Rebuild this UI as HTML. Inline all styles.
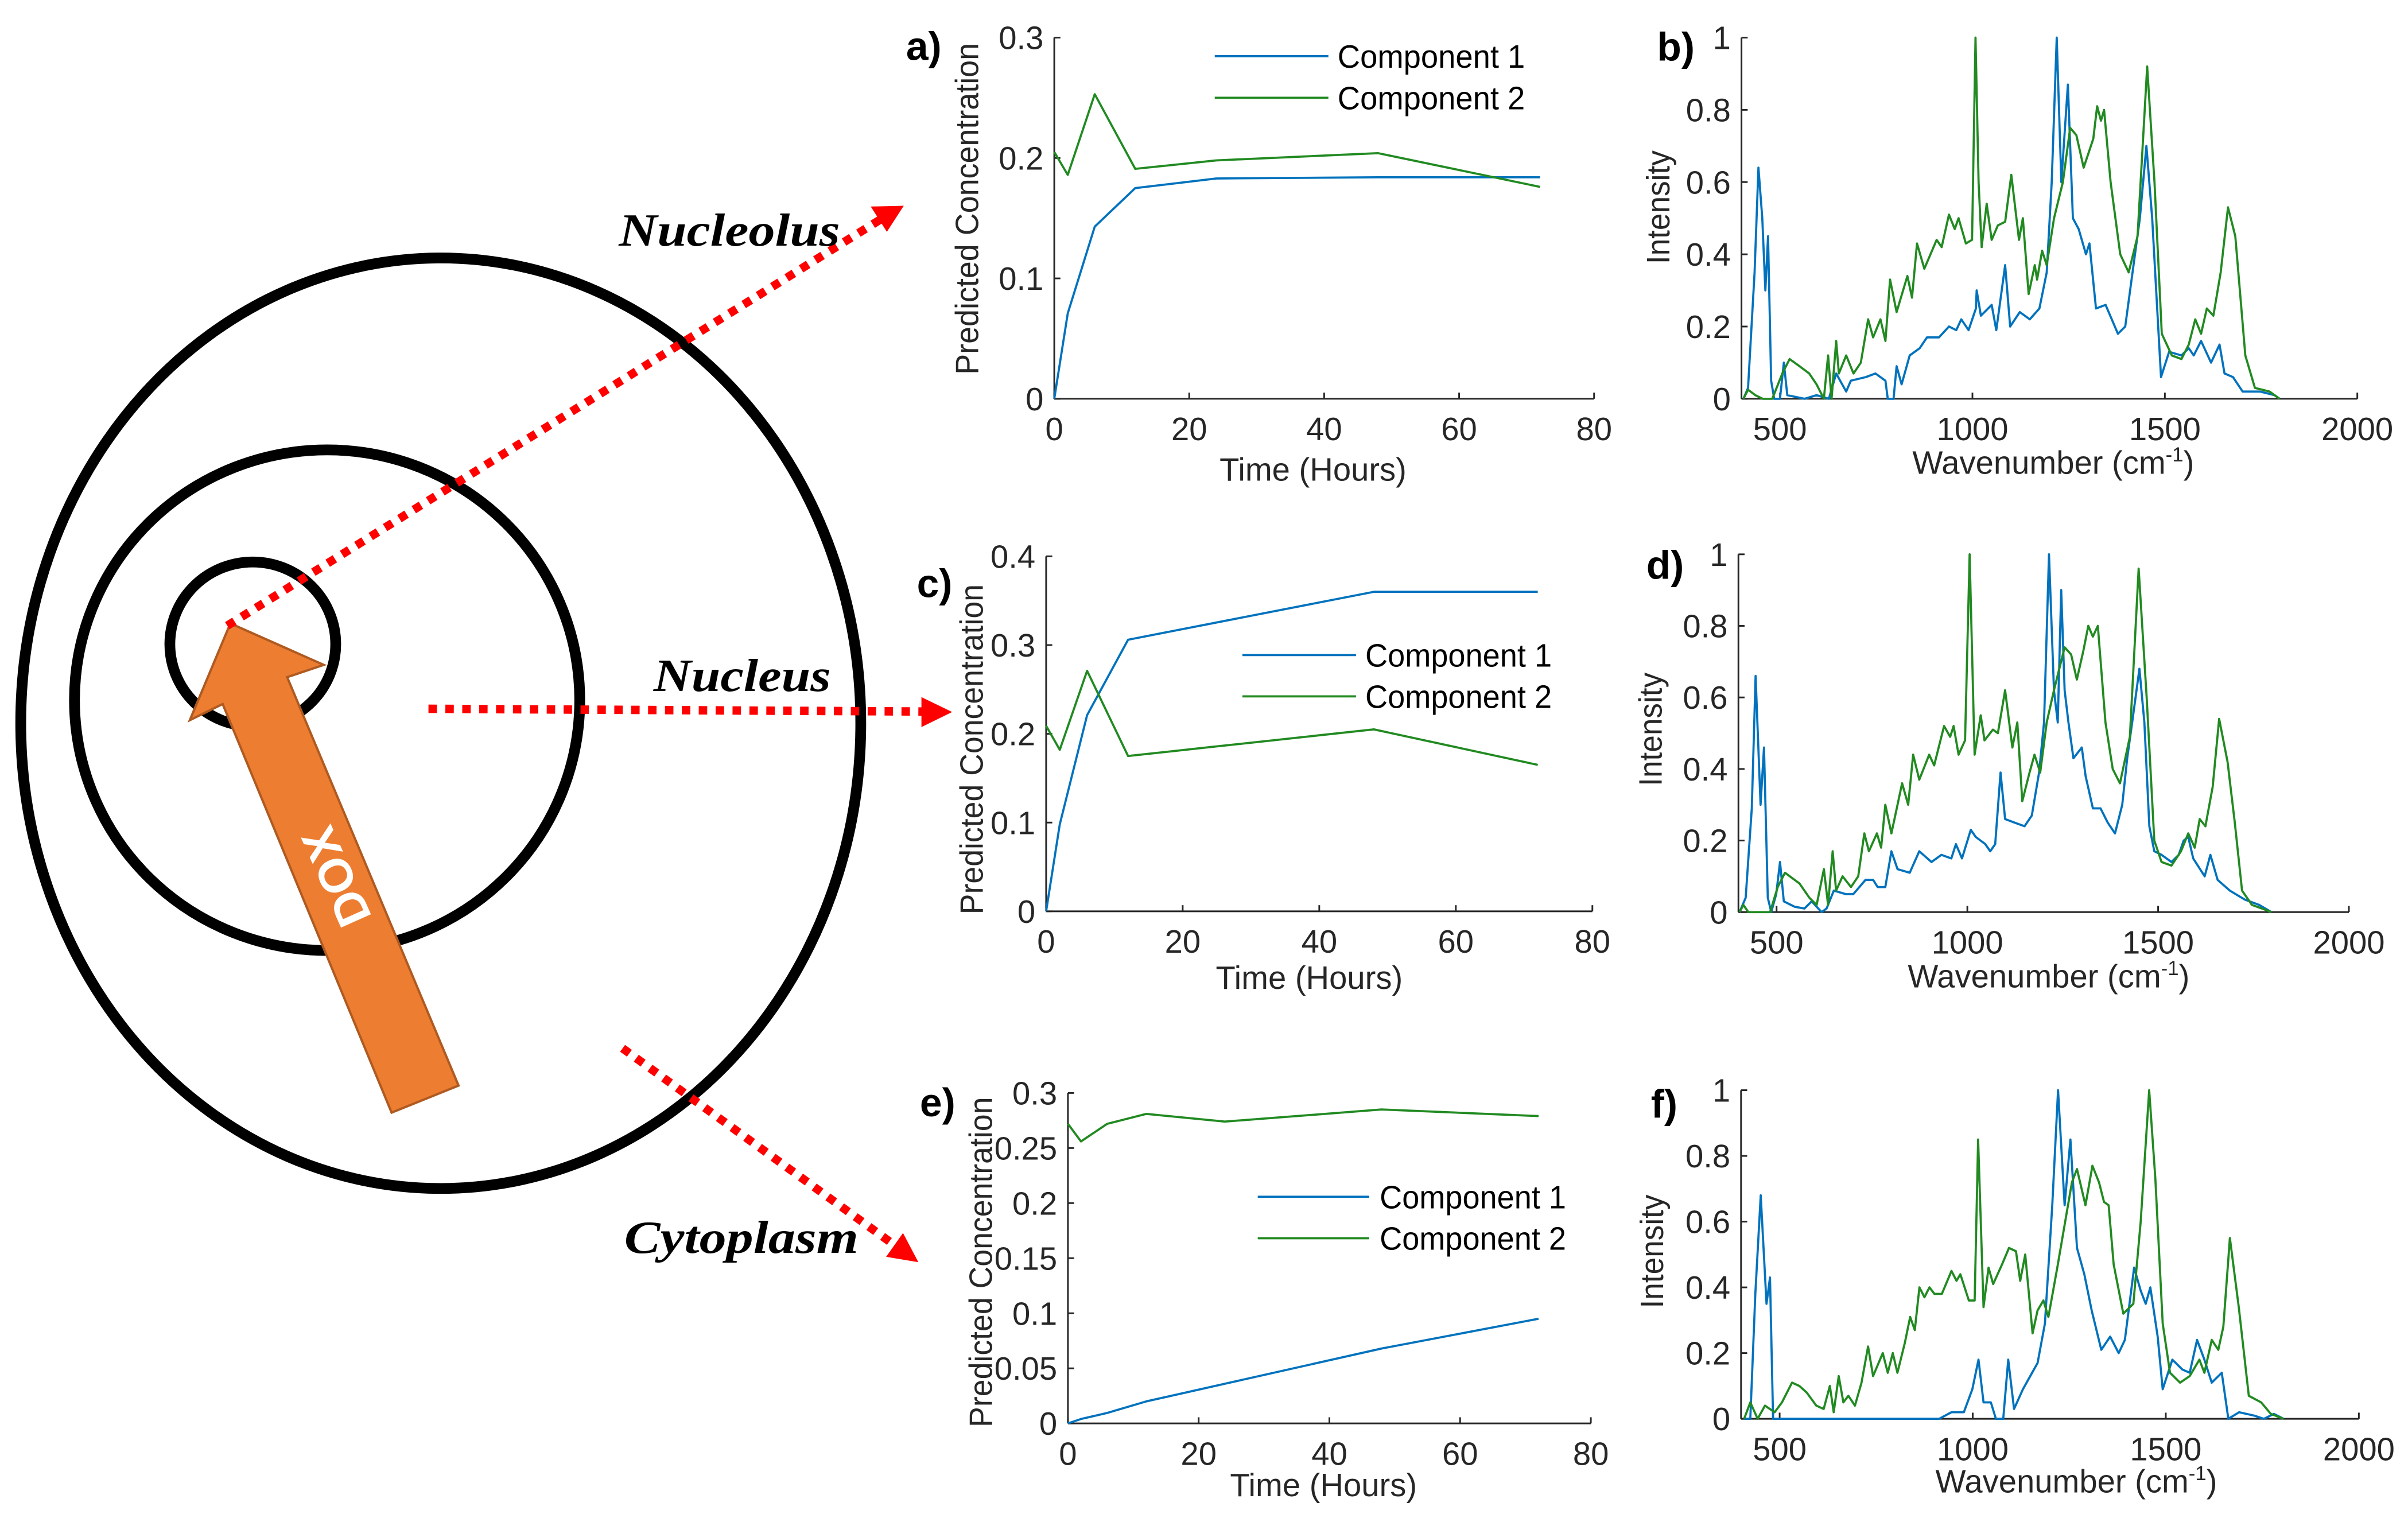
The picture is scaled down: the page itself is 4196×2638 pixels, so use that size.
<!DOCTYPE html>
<html><head><meta charset="utf-8"><style>
html,body{margin:0;padding:0;background:#fff;}
svg{display:block;}
text{font-family:"Liberation Sans",Arial,sans-serif;}
text.serif{font-family:"Liberation Serif","DejaVu Serif",serif;}
</style></head><body>
<svg id="fig" xmlns="http://www.w3.org/2000/svg" width="4196" height="2638" viewBox="0 0 1568 986" preserveAspectRatio="none">
<rect x="0" y="0" width="1568" height="986" fill="#fff"/>
<g id="diagram">
  <ellipse cx="287" cy="471" rx="273.5" ry="303" fill="none" stroke="#000" stroke-width="7"/>
  <ellipse cx="213" cy="456" rx="164.5" ry="163" fill="none" stroke="#000" stroke-width="7"/>
  <ellipse cx="164.6" cy="419.5" rx="54" ry="53.5" fill="none" stroke="#000" stroke-width="7"/>
  <polygon points="150,406 210.8,433 187,441 298.6,707 255,724.6 145,458.5 123.6,469" fill="#ED7D31" stroke="#AE5A21" stroke-width="1.5"/>
  <text x="0" y="0" transform="translate(219,571) rotate(-114)" text-anchor="middle" dominant-baseline="central" font-weight="bold" font-size="31" fill="#fff">DOX</text>
  <line x1="148" y1="407.5" x2="574" y2="142.5" stroke="#f00" stroke-width="5.5" stroke-dasharray="5.5,5.5"/>
  <polygon points="588.5,134 567,134.5 577.5,151" fill="#f00"/>
  <line x1="279" y1="461.6" x2="603" y2="463.4" stroke="#f00" stroke-width="5.5" stroke-dasharray="5.5,5.5"/>
  <polygon points="620,463.7 600,454 600,473.5" fill="#f00"/>
  <line x1="405.4" y1="682.7" x2="584" y2="812" stroke="#f00" stroke-width="5.5" stroke-dasharray="5.5,5.5"/>
  <polygon points="598,822 577,818.5 588,803" fill="#f00"/>
  <text class="serif" x="403" y="160" font-style="italic" font-weight="bold" font-size="30" textLength="144" lengthAdjust="spacingAndGlyphs">Nucleolus</text>
  <text class="serif" x="425.6" y="450" font-style="italic" font-weight="bold" font-size="30" textLength="115.4" lengthAdjust="spacingAndGlyphs">Nucleus</text>
  <text class="serif" x="406.5" y="816" font-style="italic" font-weight="bold" font-size="30" textLength="152.5" lengthAdjust="spacingAndGlyphs">Cytoplasm</text>
</g>
</svg>
<script>
// ---------- data ----------
const times = [0, 2, 6, 12, 24, 48, 72];
const concA1 = [0, 0.071, 0.143, 0.175, 0.183, 0.184, 0.184];
const concA2 = [0.205, 0.186, 0.253, 0.191, 0.198, 0.204, 0.176];
const concC1 = [0, 0.098, 0.221, 0.306, 0.324, 0.360, 0.360];
const concC2 = [0.209, 0.182, 0.271, 0.175, 0.185, 0.205, 0.165];
const concE1 = [0, 0.004, 0.0095, 0.02, 0.036, 0.068, 0.095];
const concE2 = [0.272, 0.256, 0.272, 0.281, 0.274, 0.285, 0.279];
const timeTicks = [0, 20, 40, 60, 80];
const timeTickLabels = ['0', '20', '40', '60', '80'];
const concTicksA = [0, 0.1, 0.2, 0.3];
const concTickLabelsA = ['0', '0.1', '0.2', '0.3'];
const concTicksC = [0, 0.1, 0.2, 0.3, 0.4];
const concTickLabelsC = ['0', '0.1', '0.2', '0.3', '0.4'];
const concTicksE = [0, 0.05, 0.1, 0.15, 0.2, 0.25, 0.3];
const concTickLabelsE = ['0', '0.05', '0.1', '0.15', '0.2', '0.25', '0.3'];
const wnTicks = [500, 1000, 1500, 2000];
const wnTickLabels = ['500', '1000', '1500', '2000'];
const intTicks = [0, 0.2, 0.4, 0.6, 0.8, 1];
const intTickLabels = ['0', '0.2', '0.4', '0.6', '0.8', '1'];

const wnB1 = [405,417,434,444,454,462,469,477,485,500,510,519,564,595,627,646,672,684,723,748,774,780,795,803,816,837,863,882,913,939,958,971,990,1009,1011,1022,1050,1062,1085,1098,1123,1149,1174,1193,1206,1219,1231,1248,1261,1276,1295,1304,1321,1346,1378,1397,1416,1435,1452,1467,1480,1490,1511,1543,1562,1575,1594,1620,1642,1655,1677,1702,1747,1785,1798];
const intB1 = [0,0.03,0.35,0.64,0.5,0.3,0.45,0.05,0,0,0.1,0.01,0,0.01,0,0.07,0.02,0.05,0.06,0.07,0.05,0,0,0.09,0.04,0.12,0.14,0.17,0.17,0.2,0.19,0.22,0.19,0.25,0.3,0.23,0.26,0.19,0.37,0.2,0.24,0.22,0.25,0.35,0.6,1.0,0.6,0.87,0.5,0.47,0.4,0.43,0.25,0.26,0.18,0.2,0.35,0.5,0.7,0.5,0.25,0.06,0.13,0.12,0.14,0.12,0.16,0.1,0.15,0.07,0.06,0.02,0.02,0.01,0];
const wnB2 = [405,417,436,455,480,506,525,551,576,595,614,625,634,646,653,672,691,710,729,742,761,774,786,803,831,843,856,875,907,920,939,954,964,983,999,1008,1016,1024,1037,1050,1066,1085,1101,1121,1131,1146,1162,1168,1181,1193,1212,1235,1254,1270,1289,1314,1324,1334,1342,1359,1384,1406,1429,1454,1473,1492,1518,1543,1562,1579,1594,1609,1626,1645,1664,1683,1709,1734,1772,1798];
const intB2 = [0,0.025,0.01,0,0,0.07,0.11,0.09,0.07,0.04,0,0.12,0,0.16,0.07,0.12,0.07,0.1,0.22,0.17,0.22,0.16,0.33,0.24,0.34,0.28,0.43,0.36,0.44,0.42,0.51,0.47,0.5,0.43,0.44,1.0,0.6,0.42,0.54,0.44,0.48,0.49,0.62,0.44,0.5,0.29,0.37,0.33,0.41,0.37,0.5,0.6,0.75,0.73,0.64,0.72,0.81,0.77,0.8,0.6,0.4,0.35,0.45,0.92,0.6,0.18,0.12,0.11,0.15,0.22,0.18,0.25,0.23,0.35,0.53,0.45,0.12,0.03,0.02,0];
const wnD1 = [403,419,435,445,458,467,477,486,499,509,519,547,573,592,618,631,650,682,701,733,753,765,785,801,817,849,874,906,932,958,970,986,1009,1022,1047,1060,1073,1087,1099,1124,1150,1169,1188,1201,1214,1227,1237,1246,1255,1265,1278,1300,1310,1329,1349,1368,1387,1406,1419,1432,1451,1464,1477,1490,1509,1535,1554,1567,1579,1592,1622,1637,1656,1688,1727,1765,1797];
const intD1 = [0,0.04,0.29,0.66,0.30,0.46,0.04,0,0.05,0.14,0.03,0.015,0.01,0.03,0,0.01,0.06,0.05,0.05,0.09,0.09,0.07,0.07,0.17,0.12,0.11,0.17,0.14,0.16,0.15,0.19,0.15,0.23,0.21,0.19,0.17,0.19,0.39,0.26,0.25,0.24,0.27,0.39,0.53,1.0,0.62,0.53,0.9,0.62,0.53,0.43,0.46,0.38,0.29,0.29,0.25,0.22,0.3,0.43,0.53,0.68,0.53,0.24,0.17,0.16,0.14,0.16,0.2,0.21,0.15,0.1,0.16,0.09,0.06,0.035,0.02,0];
const wnD2 = [403,413,426,483,503,522,560,586,605,624,635,647,656,673,695,714,730,742,763,774,785,801,829,845,858,874,900,913,939,955,964,977,994,1006,1019,1035,1045,1067,1080,1099,1118,1131,1144,1163,1176,1191,1208,1227,1255,1272,1287,1304,1317,1329,1342,1362,1381,1400,1426,1449,1470,1490,1509,1535,1560,1579,1596,1609,1624,1643,1660,1682,1701,1720,1746,1772,1797];
const intD2 = [0,0.02,0,0,0.07,0.11,0.08,0.04,0.02,0.12,0.02,0.17,0.06,0.1,0.07,0.1,0.22,0.17,0.22,0.18,0.3,0.22,0.36,0.3,0.44,0.37,0.44,0.41,0.52,0.49,0.52,0.44,0.48,1.0,0.44,0.55,0.48,0.51,0.5,0.62,0.46,0.53,0.31,0.39,0.44,0.39,0.53,0.62,0.74,0.72,0.65,0.73,0.8,0.77,0.8,0.53,0.4,0.36,0.49,0.96,0.6,0.2,0.14,0.13,0.17,0.22,0.18,0.26,0.24,0.35,0.54,0.42,0.25,0.06,0.02,0.01,0];
const wnF1 = [408,424,437,451,466,475,483,532,913,945,977,999,1015,1028,1047,1060,1079,1092,1107,1130,1149,1168,1187,1206,1221,1238,1253,1270,1289,1308,1333,1356,1378,1394,1406,1418,1435,1448,1460,1479,1492,1517,1543,1562,1581,1600,1619,1645,1662,1690,1728,1754,1780,1805];
const intF1 = [0,0,0.38,0.68,0.35,0.43,0,0,0,0.02,0.02,0.09,0.18,0.05,0.05,0,0,0.18,0.03,0.09,0.13,0.17,0.29,0.65,1.0,0.65,0.85,0.52,0.44,0.33,0.21,0.25,0.2,0.24,0.35,0.46,0.39,0.35,0.4,0.25,0.09,0.18,0.15,0.14,0.24,0.18,0.11,0.14,0,0.02,0.01,0,0.015,0];
const wnF2 = [408,424,443,462,487,506,532,551,570,595,614,630,640,653,665,678,695,712,729,742,767,780,793,805,824,838,850,862,875,888,901,920,945,958,968,990,1005,1014,1028,1041,1053,1076,1094,1112,1123,1136,1155,1168,1183,1196,1219,1238,1257,1270,1292,1310,1327,1340,1352,1365,1390,1416,1435,1457,1473,1492,1511,1537,1562,1587,1600,1619,1636,1649,1666,1689,1715,1747,1772,1805];
const intF2 = [0,0.05,0,0.04,0.02,0.05,0.11,0.1,0.08,0.04,0.03,0.1,0.02,0.13,0.05,0.07,0.04,0.11,0.22,0.13,0.2,0.14,0.2,0.14,0.23,0.31,0.27,0.4,0.37,0.4,0.38,0.38,0.45,0.42,0.44,0.36,0.36,0.85,0.34,0.46,0.41,0.47,0.52,0.51,0.42,0.5,0.26,0.33,0.36,0.31,0.46,0.59,0.72,0.76,0.65,0.77,0.72,0.66,0.65,0.47,0.32,0.35,0.6,1.0,0.73,0.29,0.14,0.11,0.13,0.18,0.14,0.24,0.21,0.28,0.55,0.34,0.07,0.05,0.015,0];

// ---------- drawing ----------
const NS = 'http://www.w3.org/2000/svg';
const BLUE = '#0072BD', GREEN = '#218A21', AX = '#262626';
const svg = document.getElementById('fig');

function mk(tag, attrs, parent) {
  const e = document.createElementNS(NS, tag);
  for (const k in attrs) e.setAttribute(k, attrs[k]);
  parent.appendChild(e);
  return e;
}

function drawPanel(p) {
  const g = mk('g', {}, svg);
  
  
  const sx = v => p.x0 + (v - p.xmin) / (p.xmax - p.xmin) * (p.x1 - p.x0);
  const sy = v => p.y0 - (v - p.ymin) / (p.ymax - p.ymin) * (p.y0 - p.y1);
  const xa = mk('line', {x1: p.x0, y1: p.y0, x2: p.x1, y2: p.y0, stroke: AX, 'stroke-width': 1.1}, g);
  
  
  const ya = mk('line', {x1: p.x0, y1: p.y0, x2: p.x0, y2: p.y1, stroke: AX, 'stroke-width': 1.1}, g);
  
  
  p.xticks.forEach((t, i) => {
    const X = sx(t);
    const tk = mk('line', {x1: X, y1: p.y0, x2: X, y2: p.y0 - 4, stroke: AX, 'stroke-width': 1.1}, g);
    
    
    const tl = mk('text', {x: X, y: p.y0 + 27, 'text-anchor': 'middle', 'font-size': 21, fill: AX}, g);
    tl.textContent = p.xlabels[i];
    
    
  });
  p.yticks.forEach((t, i) => {
    const Y = sy(t);
    const tk = mk('line', {x1: p.x0, y1: Y, x2: p.x0 + 4, y2: Y, stroke: AX, 'stroke-width': 1.1}, g);
    
    
    const tl = mk('text', {x: p.x0 - 7, y: Y + 7.5, 'text-anchor': 'end', 'font-size': 21, fill: AX}, g);
    tl.textContent = p.ylabels[i];
    
    
  });
  p.series.forEach(s => {
    const d = s.x.map((v, i) => (i ? 'L' : 'M') + sx(v).toFixed(2) + ',' + sy(s.y[i]).toFixed(2)).join('');
    const path = mk('path', {d: d, fill: 'none', stroke: s.color, 'stroke-width': 1.4, 'stroke-linejoin': 'round'}, g);
    
    
  });
  const xl = mk('text', {x: p.xlab[0], y: p.xlab[1], 'text-anchor': 'middle', 'font-size': 21, fill: AX}, g);
  if (p.xlabSup) {
    xl.appendChild(document.createTextNode('Wavenumber (cm'));
    const ts = mk('tspan', {'font-size': 13, dy: -8}, xl);
    ts.textContent = '-1';
    const ts2 = mk('tspan', {dy: 8}, xl);
    ts2.textContent = ')';
  } else {
    xl.textContent = p.xlabText;
  }
  
  
  const yl = mk('text', {x: 0, y: 0, transform: 'translate(' + p.ylab[0] + ',' + p.ylab[1] + ') rotate(-90)', 'text-anchor': 'middle', 'font-size': 21, fill: AX, textLength: p.ylab[2], lengthAdjust: 'spacingAndGlyphs'}, g);
  yl.textContent = p.ylabText;
  
  
  const pl = mk('text', {x: p.plab[0], y: p.plab[1], 'font-size': 26, 'font-weight': 'bold', fill: '#000'}, g);
  pl.textContent = p.plabText;
  
  
  if (p.legend) {
    const L = p.legend;
    [['Component 1', BLUE, L.y1], ['Component 2', GREEN, L.y2]].forEach(en => {
      const lg = mk('g', {}, g);
      
      
      const ln = mk('line', {x1: L.lx0, y1: en[2], x2: L.lx1, y2: en[2], stroke: en[1], 'stroke-width': 1.4}, lg);
      
      
      const lt = mk('text', {x: L.tx, y: en[2] + 7.5, 'font-size': 21, fill: '#000', textLength: L.tw, lengthAdjust: 'spacingAndGlyphs'}, lg);
      lt.textContent = en[0];
      
      
    });
  }
}

drawPanel({name: 'panel-a-nucleolus-concentration', x0: 686.5, x1: 1038, y0: 259.7, y1: 24.5, xmin: 0, xmax: 80, ymin: 0, ymax: 0.3,
  xticks: timeTicks, xlabels: timeTickLabels, yticks: concTicksA, ylabels: concTickLabelsA,
  series: [{x: times, y: concA1, color: BLUE, name: 'component-1-line'}, {x: times, y: concA2, color: GREEN, name: 'component-2-line'}],
  xlab: [855, 313], xlabText: 'Time (Hours)', ylab: [637, 136, 216], ylabText: 'Predicted Concentration',
  plab: [590, 39], plabText: 'a)', legend: {lx0: 791, lx1: 865, y1: 36.6, y2: 63.7, tx: 871, tw: 122}});

drawPanel({name: 'panel-c-nucleus-concentration', x0: 681.2, x1: 1036.9, y0: 593.5, y1: 362.3, xmin: 0, xmax: 80, ymin: 0, ymax: 0.4,
  xticks: timeTicks, xlabels: timeTickLabels, yticks: concTicksC, ylabels: concTickLabelsC,
  series: [{x: times, y: concC1, color: BLUE, name: 'component-1-line'}, {x: times, y: concC2, color: GREEN, name: 'component-2-line'}],
  xlab: [852.5, 644], xlabText: 'Time (Hours)', ylab: [640, 488, 215], ylabText: 'Predicted Concentration',
  plab: [597, 389], plabText: 'c)', legend: {lx0: 809, lx1: 883, y1: 426.6, y2: 453.5, tx: 889, tw: 121.5}});

drawPanel({name: 'panel-e-cytoplasm-concentration', x0: 695.4, x1: 1035.9, y0: 927, y1: 711.8, xmin: 0, xmax: 80, ymin: 0, ymax: 0.3,
  xticks: timeTicks, xlabels: timeTickLabels, yticks: concTicksE, ylabels: concTickLabelsE,
  series: [{x: times, y: concE1, color: BLUE, name: 'component-1-line'}, {x: times, y: concE2, color: GREEN, name: 'component-2-line'}],
  xlab: [861.8, 974.5], xlabText: 'Time (Hours)', ylab: [646, 822, 215], ylabText: 'Predicted Concentration',
  plab: [599, 727], plabText: 'e)', legend: {lx0: 819, lx1: 891.6, y1: 779.4, y2: 806.4, tx: 898.4, tw: 121.4}});

drawPanel({name: 'panel-b-nucleolus-spectra', x0: 1134, x1: 1535, y0: 259.7, y1: 24.5, xmin: 400, xmax: 2000, ymin: 0, ymax: 1,
  xticks: wnTicks, xlabels: wnTickLabels, yticks: intTicks, ylabels: intTickLabels,
  series: [{x: wnB1, y: intB1, color: BLUE, name: 'component-1-spectrum'}, {x: wnB2, y: intB2, color: GREEN, name: 'component-2-spectrum'}],
  xlab: [1337, 308.5], xlabSup: true, ylab: [1087, 135, 74], ylabText: 'Intensity',
  plab: [1079, 39.5], plabText: 'b)'});

drawPanel({name: 'panel-d-nucleus-spectra', x0: 1132, x1: 1529.5, y0: 594, y1: 361, xmin: 400, xmax: 2000, ymin: 0, ymax: 1,
  xticks: wnTicks, xlabels: wnTickLabels, yticks: intTicks, ylabels: intTickLabels,
  series: [{x: wnD1, y: intD1, color: BLUE, name: 'component-1-spectrum'}, {x: wnD2, y: intD2, color: GREEN, name: 'component-2-spectrum'}],
  xlab: [1334, 643], xlabSup: true, ylab: [1082, 475, 74], ylabText: 'Intensity',
  plab: [1072, 377], plabText: 'd)'});

drawPanel({name: 'panel-f-cytoplasm-spectra', x0: 1133.7, x1: 1536, y0: 924, y1: 710, xmin: 400, xmax: 2000, ymin: 0, ymax: 1,
  xticks: wnTicks, xlabels: wnTickLabels, yticks: intTicks, ylabels: intTickLabels,
  series: [{x: wnF1, y: intF1, color: BLUE, name: 'component-1-spectrum'}, {x: wnF2, y: intF2, color: GREEN, name: 'component-2-spectrum'}],
  xlab: [1352, 972], xlabSup: true, ylab: [1083, 815, 74], ylabText: 'Intensity',
  plab: [1075, 728], plabText: 'f)'});
</script>
</body></html>
